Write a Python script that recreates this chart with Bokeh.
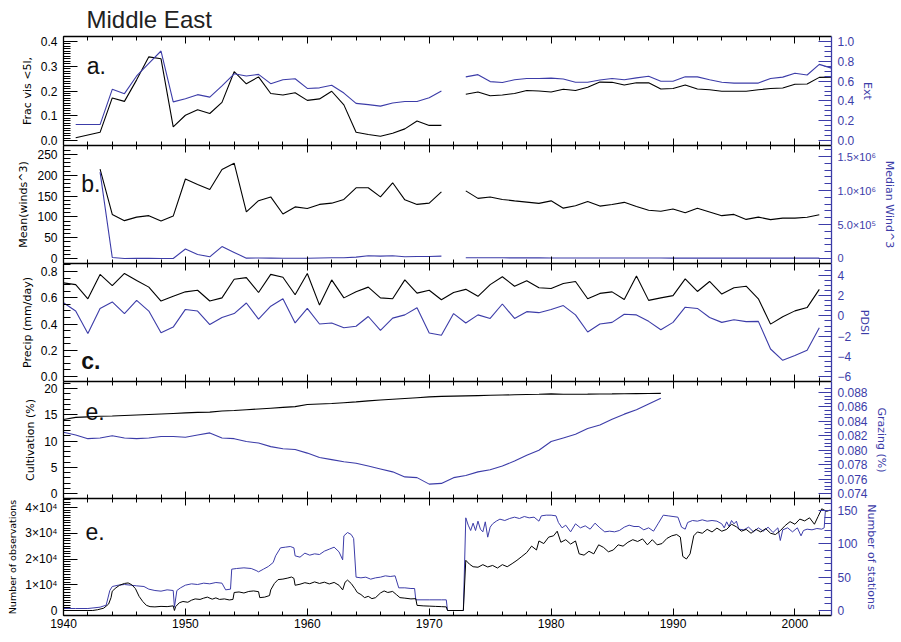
import math
from bokeh.plotting import figure
from bokeh.models import Range1d, LinearAxis, FixedTicker, Label, Title
from bokeh.layouts import column
from bokeh.embed import file_html
from bokeh.resources import INLINE

NaN = float("nan")

# ---------------- data ----------------
x_ticks = [1940, 1950, 1960, 1970, 1980, 1990, 2000]
x_tick_labels = ["1940", "1950", "1960", "1970", "1980", "1990", "2000"]
x_minor = list(range(1940, 2004, 2))

# panel a : fraction of visibility < 5 km (left) and extinction (right)
a_years = [1941] + list(range(1943, 2004))
a_frac = [0.011, 0.033, 0.172, 0.158, 0.245, 0.338, 0.330, 0.055, 0.102, 0.124,
          0.109, 0.154, 0.278, 0.229, 0.257, 0.190, 0.184, 0.193, 0.162, 0.168,
          0.199, 0.144, 0.033, 0.024, 0.017, 0.029, 0.047, 0.079, 0.061, 0.061,
          NaN,
          0.187, 0.196, 0.181, 0.184, 0.190, 0.202, 0.200, 0.196, 0.207, 0.202,
          0.215, 0.236, 0.235, 0.224, 0.233, 0.233, 0.208, 0.210, 0.224, 0.208,
          0.205, 0.199, 0.199, 0.199, 0.205, 0.210, 0.212, 0.227, 0.228, 0.255, 0.256]
a_ext = [0.161, 0.161, 0.517, 0.473, 0.652, 0.778, 0.904, 0.390, 0.422, 0.463,
         0.438, 0.551, 0.674, 0.652, 0.668, 0.574, 0.614, 0.624, 0.526, 0.532,
         0.558, 0.479, 0.375, 0.362, 0.347, 0.378, 0.394, 0.394, 0.432, 0.501,
         NaN,
         0.643, 0.665, 0.595, 0.586, 0.614, 0.627, 0.627, 0.630, 0.621, 0.589,
         0.589, 0.611, 0.627, 0.614, 0.633, 0.649, 0.599, 0.599, 0.643, 0.643,
         0.614, 0.589, 0.580, 0.580, 0.580, 0.627, 0.640, 0.680, 0.662, 0.769, 0.731]

# panel b : mean winds^3 (left) and median wind^3 (right)
b_years = list(range(1943, 2003))
b_mean = [215, 106, 91, 99.5, 103, 90, 102, 191, 178, 166, 214, 229, 112, 139, 148,
          107, 124, 120, 130, 133, 142, 170, 170, 148, 182, 141, 130, 133, 160,
          NaN,
          162.6, 144.6, 148, 142, 138.6, 135.6, 132.6, 138.6, 121, 126.6, 137, 126,
          130, 135, 125, 116, 113.7, 119, 110, 121, 112, 103, 106, 94, 99.5, 93.5,
          97, 97, 99, 105]
b_median = [1270000, 15000, 0, 2000, 2000, 0, 0, 140000, 60000, 25000, 175000, 90000,
            5000, 8000, 6000, 3000, 3000, 4000, 8000, 10000, 12000, 20000, 40000,
            35000, 40000, 25000, 30000, 30000, 35000,
            NaN,
            12000, 11000, 10000, 10000, 9000, 9000, 9000, 8000, 8000, 8000, 8000,
            7000, 7000, 7000, 7000, 7000, 7000, 6000, 6000, 6000, 6000, 6000, 6000,
            6000, 6000, 6000, 6000, 6000, 6000, 6000]

# panel c : precipitation (left) and PDSI (right)
c_years = list(range(1940, 2003))
c_precip = [0.713, 0.700, 0.592, 0.778, 0.693, 0.785, 0.732, 0.681, 0.575, 0.611,
            0.645, 0.657, 0.575, 0.599, 0.741, 0.753, 0.640, 0.778, 0.756, 0.623,
            0.785, 0.544, 0.736, 0.599, 0.645, 0.681, 0.599, 0.592, 0.736, 0.635,
            0.657, 0.585, 0.640, 0.664, 0.611, 0.700, 0.760, 0.688, 0.729, 0.676,
            0.671, 0.708, 0.724, 0.592, 0.633, 0.645, 0.587, 0.765, 0.580, 0.599,
            0.616, 0.744, 0.648, 0.724, 0.628, 0.676, 0.688, 0.592, 0.399, 0.455,
            0.500, 0.525, 0.664]
c_pdsi = [1.3, 0.48, -1.75, 0.74, 1.38, 0.23, 1.53, 0.48, -1.66, -1.11,
          0.64, 0.48, -0.86, -0.16, 0.23, 1.28, -0.32, 0.96, 1.69, -0.70,
          0.74, -0.80, -0.70, -1.18, -1.02, -0.06, -1.43, -0.22, 0.10, 0.80,
          -1.69, -1.91, 0.23, -0.70, 0.10, -0.25, 1.18, -0.25, 0.42, 0.32,
          0.64, 1.02, 0.10, -1.59, -0.80, -0.64, 0.16, 0.10, -0.54, -1.37,
          -0.64, 0.86, 0.74, -0.16, -0.64, -0.38, -0.57, -0.54, -3.28, -4.40,
          -3.92, -3.41, -1.18]

# panel d : cultivation (left) and grazing (right)
d_years = list(range(1940, 1990))
d_cult = [14.1, 14.5, 14.6, 14.7, 14.75, 14.85, 14.95, 15.05, 15.15, 15.25,
          15.35, 15.45, 15.5, 15.7, 15.8, 15.95, 16.1, 16.25, 16.4, 16.55,
          16.95, 17.05, 17.15, 17.3, 17.45, 17.65, 17.8, 17.95, 18.1, 18.25,
          18.4, 18.5, 18.55, 18.6, 18.65, 18.7, 18.75, 18.8, 18.85, 18.9,
          18.98, 18.9, 18.9, 18.92, 18.95, 18.97, 19.0, 19.02, 19.05, 19.07]
d_graz = [0.0825, 0.0821, 0.0816, 0.0817, 0.0820, 0.0817, 0.0816, 0.0817, 0.0819, 0.0819,
          0.0818, 0.0821, 0.0824, 0.0817, 0.0816, 0.0812, 0.0810, 0.0805, 0.0802, 0.0801,
          0.0796, 0.0790, 0.0787, 0.0784, 0.0782, 0.0778, 0.0774, 0.0770, 0.0763, 0.0762,
          0.0753, 0.0754, 0.0762, 0.0765, 0.0770, 0.0773, 0.0778, 0.0785, 0.0793, 0.0800,
          0.0812, 0.0817, 0.0822, 0.0830, 0.0835, 0.0843, 0.0850, 0.0856, 0.0864, 0.0872]

# panel e : number of observations (left) and number of stations (right)
e_obs_t = [1940.0, 1941.0, 1942.0, 1942.4, 1942.8, 1943.3, 1943.7, 1943.9, 1944.0, 1944.3,
           1944.6, 1945.0, 1945.3, 1945.6, 1945.9, 1946.2, 1946.5, 1946.8, 1947.1, 1947.5,
           1948.0, 1948.5, 1949.0, 1949.1, 1949.2, 1949.5, 1949.8, 1950.2, 1950.5, 1950.8,
           1951.2, 1951.5, 1951.8, 1952.2, 1952.5, 1952.8, 1953.2, 1953.6, 1953.9, 1954.0,
           1954.4, 1954.8, 1955.2, 1955.6, 1956.0, 1956.1, 1956.5, 1956.9, 1957.0, 1957.3,
           1957.6, 1958.0, 1958.4, 1958.7, 1958.9, 1959.0, 1959.4, 1959.8, 1960.2, 1960.6,
           1961.0, 1961.4, 1961.8, 1962.2, 1962.6, 1962.9, 1963.1, 1963.3, 1963.6, 1963.9,
           1964.1, 1964.4, 1964.7, 1965.0, 1965.3, 1965.6, 1966.0, 1966.3, 1966.6, 1967.0,
           1967.3, 1967.6, 1968.0, 1968.5, 1968.9, 1969.0, 1969.5, 1970.0, 1970.5, 1971.0,
           1971.4, 1971.5, 1972.8, 1973.0, 1973.3, 1973.6, 1974.0, 1974.4, 1974.8, 1975.2,
           1975.6, 1976.0, 1976.4, 1976.8, 1977.2, 1977.6, 1978.0, 1978.4, 1978.8, 1979.0,
           1979.4, 1979.8, 1980.2, 1980.5, 1980.8, 1981.2, 1981.6, 1982.0, 1982.3, 1982.7,
           1983.1, 1983.5, 1983.9, 1984.3, 1984.7, 1985.1, 1985.5, 1985.9, 1986.3, 1986.7,
           1987.1, 1987.5, 1987.9, 1988.3, 1988.7, 1989.1, 1989.5, 1989.9, 1990.3, 1990.6,
           1990.8, 1991.1, 1991.4, 1991.7, 1992.0, 1992.4, 1992.8, 1993.2, 1993.6, 1994.0,
           1994.4, 1994.8, 1995.2, 1995.6, 1996.0, 1996.4, 1996.8, 1997.2, 1997.6, 1998.0,
           1998.4, 1998.8, 1999.2, 1999.6, 2000.0, 2000.4, 2000.8, 2001.2, 2001.6, 2001.9,
           2002.2, 2002.6, 2002.9]
e_obs_v = [0, 0, 0, 0, 300, 900, 2500, 5000, 7500, 8800,
           9800, 10500, 10700, 10000, 8500, 5500, 3500, 2000, 1500, 1400,
           1600, 1500, 1800, 0, 1500, 3000, 3500, 3200, 4000, 4500,
           4300, 4800, 5200, 4400, 4900, 4300, 4500, 4100, 4300, 7000,
           7200, 6800, 7400, 7600, 7300, 5000, 5200, 5800, 8000, 10500,
           12000, 12200, 12600, 13000, 12500, 9800, 10200, 10800, 10400, 11100,
           10500, 11000, 10300, 10900, 9800, 8000, 11000, 11800, 10500, 8500,
           7000, 6200, 5000, 5500, 4600, 5000, 6800, 7600, 7000, 7400,
           6200, 5000, 4800, 4500, 4600, 2000, 1800, 1700, 1600, 1500,
           1400, 0, 0, 19500, 18000, 17000, 16800, 17800, 16900, 17500,
           16500, 17800, 17000, 18200, 19500, 21000, 22500, 25000, 23500, 27000,
           26000, 28500, 29000, 30800, 26500, 27500, 25800, 27000, 22000, 21500,
           23000, 22000, 25500, 24500, 22800, 23500, 25500, 25000, 26500, 27500,
           26800, 27800, 25500, 27500, 25500, 26000, 28000, 29000, 29500, 28500,
           21000, 20000, 22000, 29000, 30500, 30000, 31500, 30500, 32000, 30800,
           31500, 33500, 32500, 30800, 31500, 30000, 31500, 30500, 31800, 30000,
           29500, 31000, 33000, 34500, 33500, 35500, 34800, 36000, 33500, 36500,
           39500, 38500, 39000]
e_sta_t = [1940.0, 1941.0, 1942.0, 1942.5, 1943.0, 1943.5, 1943.8, 1944.0, 1944.5, 1945.0,
           1945.5, 1946.0, 1946.6, 1947.0, 1947.5, 1948.0, 1948.5, 1949.0, 1949.1, 1949.3,
           1949.6, 1950.0, 1950.5, 1951.0, 1951.5, 1952.0, 1952.5, 1953.0, 1953.3, 1953.7,
           1953.8, 1954.2, 1954.8, 1955.4, 1955.8, 1956.0, 1956.4, 1956.8, 1957.2, 1957.4,
           1957.8, 1958.2, 1958.6, 1958.9, 1959.0, 1959.4, 1959.8, 1960.2, 1960.6, 1961.0,
           1961.4, 1961.8, 1962.2, 1962.6, 1962.9, 1963.0, 1963.3, 1963.6, 1963.8, 1964.0,
           1964.4, 1964.8, 1965.2, 1965.6, 1966.0, 1966.4, 1966.8, 1967.2, 1967.5, 1968.0,
           1968.5, 1968.8, 1968.9, 1970.0, 1971.0, 1971.4, 1971.5, 1972.8, 1973.0, 1973.2,
           1973.4, 1973.6, 1973.8, 1974.0, 1974.2, 1974.4, 1974.6, 1974.8, 1975.0, 1975.2,
           1975.5, 1975.8, 1976.2, 1976.6, 1977.0, 1977.4, 1977.8, 1978.2, 1978.6, 1979.0,
           1979.2, 1979.6, 1980.0, 1980.4, 1980.6, 1980.9, 1981.2, 1981.6, 1982.0, 1982.4,
           1982.8, 1983.2, 1983.6, 1984.0, 1984.4, 1984.8, 1985.2, 1985.6, 1986.0, 1986.4,
           1986.8, 1987.2, 1987.6, 1988.0, 1988.4, 1988.8, 1989.2, 1989.6, 1990.0, 1990.4,
           1990.7, 1991.0, 1991.2, 1991.6, 1992.0, 1992.4, 1992.8, 1993.2, 1993.6, 1994.0,
           1994.2, 1994.4, 1994.6, 1994.8, 1995.0, 1995.2, 1995.4, 1995.8, 1996.2, 1996.6,
           1997.0, 1997.4, 1997.8, 1998.2, 1998.6, 1998.8, 1999.0, 1999.4, 1999.8, 2000.2,
           2000.5, 2000.7, 2001.0, 2001.4, 2001.8, 2002.2, 2002.4, 2002.5, 2002.9]
e_sta_v = [3, 3, 3, 4, 5, 8, 30, 36, 38, 39,
           38, 37, 36, 32, 30, 29, 31, 30, 5, 30,
           34, 38, 40, 39, 41, 40, 42, 41, 31, 32,
           62, 63, 64, 63, 60, 58, 62, 66, 72, 82,
           94, 95, 96, 94, 82, 80, 86, 83, 85, 84,
           89, 92, 95, 88, 76, 112, 117, 114, 108, 50,
           49, 50, 47, 49, 50, 52, 51, 52, 34, 34,
           33, 33, 16, 16, 16, 16, 0, 0, 139, 128,
           120, 131, 120, 134, 122, 118, 133, 110, 125, 130,
           134, 137, 135, 138, 140, 138, 141, 139, 140, 134,
           142, 143, 143, 142, 132, 124, 128, 118, 130, 124,
           127, 122, 131, 124, 118, 119, 118, 120, 125, 128,
           126, 126, 121, 124, 119, 131, 143, 142, 141, 140,
           125, 122, 132, 135, 134, 136, 134, 135, 134, 130,
           124, 133, 126, 135, 130, 134, 122, 121, 125, 118,
           124, 119, 125, 117, 124, 105, 121, 124, 118, 124,
           112, 120, 122, 121, 123, 122, 124, 150, 150]

# ---------------- styling ----------------
BLUE = "#3c3ca8"
BLACK = "#000000"
TICK_FONT = "Liberation Sans"
LABEL_FONT = "DejaVu Sans"
FW = 768
LB = 63
RB = 56
X0, X1 = 1940, 2003


def scale_range(t_lo, t_hi, off_b, off_t, h):
    """range whose end ticks t_lo/t_hi sit off_b / off_t pixels inside the frame"""
    pp = (t_hi - t_lo) / (h - off_b - off_t)
    return (t_lo - off_b * pp, t_hi + off_t * pp)


def at_px(rng, h, px_from_top):
    lo, hi = rng
    return hi - px_from_top * (hi - lo) / h


def style_axis(ax, color, maj, mnr, fs="12px"):
    ax.axis_line_color = color
    ax.axis_line_width = 1.3
    ax.major_tick_line_color = color
    ax.minor_tick_line_color = color
    ax.major_tick_in = maj
    ax.major_tick_out = 0
    ax.minor_tick_in = mnr
    ax.minor_tick_out = 0
    ax.major_label_text_color = color
    ax.major_label_text_font = TICK_FONT
    ax.major_label_text_font_size = fs
    ax.axis_label_text_color = color
    ax.axis_label_text_font = LABEL_FONT
    ax.axis_label_text_font_size = "11px"
    ax.axis_label_text_font_style = "normal"


def make_fig(h, yrng, rrng):
    p = figure(frame_width=FW, frame_height=h,
               x_range=Range1d(X0, X1), y_range=Range1d(*yrng),
               output_backend="svg", toolbar_location=None,
               x_axis_location=None, y_axis_location=None,
               min_border_left=LB, min_border_right=RB,
               min_border_top=0, min_border_bottom=0,
               background_fill_color="white", border_fill_color="white",
               outline_line_color=None)
    p.extra_y_ranges = {"r": Range1d(*rrng)}
    p.xgrid.visible = False
    p.ygrid.visible = False
    return p


def add_xaxes(p, labels):
    for side in ("above", "below"):
        ax = LinearAxis(ticker=FixedTicker(ticks=x_ticks, minor_ticks=x_minor))
        style_axis(ax, BLACK, 7, 4)
        if side == "below" and labels:
            ax.major_label_overrides = dict(zip(x_ticks, x_tick_labels))
            ax.major_label_standoff = 3
        else:
            ax.major_label_text_font_size = "0px"
            ax.major_label_standoff = 0
        p.add_layout(ax, side)


def add_yaxis(p, side, ticks, labels, minor, title, color, maj, mnr,
              rname="default", fs="12px", title_fs="11px"):
    ax = LinearAxis(ticker=FixedTicker(ticks=ticks, minor_ticks=minor), axis_label=title)
    if rname != "default":
        ax.y_range_name = rname
    style_axis(ax, color, maj, mnr, fs)
    ax.axis_label_text_font_size = title_fs
    ax.major_label_standoff = 6
    ax.axis_label_standoff = 4
    ax.major_label_overrides = dict(zip(ticks, labels))
    p.add_layout(ax, side)


def panel_letter(p, x, y, txt, bold=False):
    p.add_layout(Label(x=x, y=y, text=txt, text_font="Liberation Sans",
                       text_font_size="23px", text_color="#111111",
                       text_font_style="bold" if bold else "normal",
                       text_baseline="alphabetic"))


def frange(a, step, n):
    return [round(a + i * step, 7) for i in range(n)]


H = [109, 118, 118, 117, 117]

# ---------------- panel a ----------------
ya = scale_range(0, 0.4, 5, 5, H[0])
pa = make_fig(H[0], ya, scale_range(0, 1.0, 5, 5, H[0]))
pa.title = Title(text="Middle East", align="left", offset=23,
                 text_font="Liberation Sans", text_font_size="24px",
                 text_font_style="normal", text_color="#222222", standoff=7)
add_xaxes(pa, False)
add_yaxis(pa, "left", [0, 0.1, 0.2, 0.3, 0.4], ["0.0", "0.1", "0.2", "0.3", "0.4"],
          frange(0, 0.01, 41), "Frac vis <5l,", BLACK, 14, 7)
add_yaxis(pa, "right", [0, 0.2, 0.4, 0.6, 0.8, 1.0],
          ["0.0", "0.2", "0.4", "0.6", "0.8", "1.0"],
          frange(0, 0.05, 21), "Ext", BLUE, 13, 7, "r")
pa.line(a_years, a_frac, color=BLACK, line_width=1.1)
pa.line(a_years, a_ext, color=BLUE, line_width=1.1, y_range_name="r")
panel_letter(pa, 1941.9, at_px(ya, H[0], 29), "a.")

# ---------------- panel b ----------------
yb = scale_range(0, 250, 5, 9, H[1])
pb = make_fig(H[1], yb, scale_range(0, 1500000, 5, 11, H[1]))
add_xaxes(pb, False)
add_yaxis(pb, "left", [0, 50, 100, 150, 200, 250], ["0", "50", "100", "150", "200", "250"],
          frange(0, 10, 27), "Mean(winds^3)", BLACK, 14, 7)
add_yaxis(pb, "right", [0, 500000, 1000000, 1500000],
          ["0", "5.0×10⁵", "1.0×10⁶", "1.5×10⁶"],
          frange(0, 100000, 17), "Median Wind^3", BLUE, 13, 7, "r", fs="11px")
pb.line(b_years, b_mean, color=BLACK, line_width=1.1)
pb.line(b_years, b_median, color=BLUE, line_width=1.1, y_range_name="r")
panel_letter(pb, 1941.45, at_px(yb, H[1], 38), "b.")

# ---------------- panel c ----------------
yc = scale_range(0, 0.8, 5, 8, H[2])
pc = make_fig(H[2], yc, scale_range(-6, 4, 5, 12, H[2]))
add_xaxes(pc, False)
add_yaxis(pc, "left", [0, 0.2, 0.4, 0.6, 0.8], ["0.0", "0.2", "0.4", "0.6", "0.8"],
          frange(0, 0.05, 18), "Precip (mm/day)", BLACK, 14, 7)
add_yaxis(pc, "right", [-6, -4, -2, 0, 2, 4], ["−6", "−4", "−2", "0", "2", "4"],
          frange(-6, 0.5, 22), "PDSI", BLUE, 13, 7, "r")
pc.line(c_years, c_precip, color=BLACK, line_width=1.1)
pc.line(c_years, c_pdsi, color=BLUE, line_width=1.1, y_range_name="r")
panel_letter(pc, 1941.45, at_px(yc, H[2], 97), "c.", bold=True)

# ---------------- panel d ----------------
yd = scale_range(0, 20, 5, 7, H[3])
pd_ = make_fig(H[3], yd, scale_range(0.074, 0.088, 5, 11, H[3]))
add_xaxes(pd_, False)
add_yaxis(pd_, "left", [0, 5, 10, 15, 20], ["0", "5", "10", "15", "20"],
          frange(0, 1, 22), "Cultivation (%)", BLACK, 14, 7)
add_yaxis(pd_, "right", [0.074, 0.076, 0.078, 0.080, 0.082, 0.084, 0.086, 0.088],
          ["0.074", "0.076", "0.078", "0.080", "0.082", "0.084", "0.086", "0.088"],
          frange(0.074, 0.0005, 30), "Grazing (%)", BLUE, 13, 7, "r")
pd_.line(d_years, d_cult, color=BLACK, line_width=1.1)
pd_.line(d_years, d_graz, color=BLUE, line_width=1.1, y_range_name="r")
panel_letter(pd_, 1941.8, at_px(yd, H[3], 30), "e.")

# ---------------- panel e ----------------
ye = scale_range(0, 40000, 5, 9, H[4])
pe = make_fig(H[4], ye, scale_range(0, 150, 5, 12, H[4]))
add_xaxes(pe, True)
add_yaxis(pe, "left", [0, 10000, 20000, 30000, 40000],
          ["0", "1×10⁴", "2×10⁴", "3×10⁴", "4×10⁴"],
          frange(0, 1000, 44), "Number of observations", BLACK, 14, 7, title_fs="9.5px")
add_yaxis(pe, "right", [0, 50, 100, 150], ["0", "50", "100", "150"],
          frange(0, 10, 17), "Number of stations", BLUE, 13, 7, "r")
pe.line(e_sta_t, e_sta_v, color=BLUE, line_width=1.0, y_range_name="r")
pe.line(e_obs_t, e_obs_v, color=BLACK, line_width=1.0)
panel_letter(pe, 1941.8, at_px(ye, H[4], 33), "e.")

layout = column(pa, pb, pc, pd_, pe, spacing=0)
open("out.html", "w").write(file_html(layout, INLINE, "Middle East"))
